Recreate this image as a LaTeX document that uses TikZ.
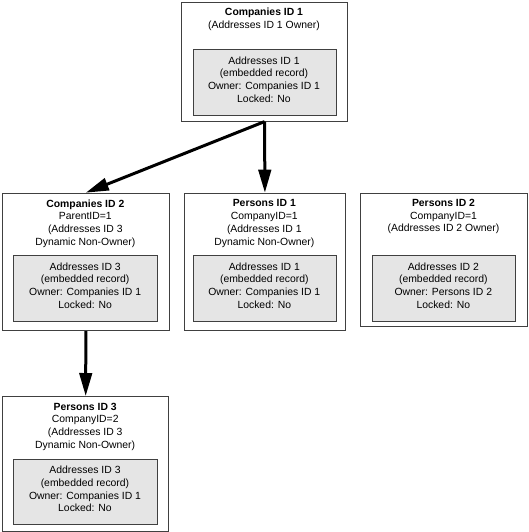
\documentclass[tikz,border=0pt]{standalone}
\usepackage{fontspec}
\setmainfont{Liberation Sans}
\usetikzlibrary{arrows.meta}
\tikzset{
  outerbox/.style={draw=black!75, line width=1.1pt, fill=white, inner sep=0pt, anchor=north west},
  innerbox/.style={draw=black!75, line width=1.1pt, fill=black!10, inner sep=0pt, anchor=north west},
  txt/.style={align=center, inner sep=0pt, text=black, font=\fontsize{10.4}{12.7}\selectfont},
  link/.style={line width=3pt, -{Triangle[length=23pt,width=12.5pt]}}
}
\begin{document}
\begin{tikzpicture}[x=1pt,y=-1pt]
\useasboundingbox (0,0) rectangle (529,532);
% outer boxes
\node[outerbox, minimum width=166pt, minimum height=118.5pt] (c1) at (181,2) {};
\node[outerbox, minimum width=166.5pt, minimum height=137.3pt] (c2) at (2,192.7) {};
\node[outerbox, minimum width=161.3pt, minimum height=137.3pt] (p1) at (183.7,192.7) {};
\node[outerbox, minimum width=167pt, minimum height=133.3pt] (p2) at (360,192.7) {};
\node[outerbox, minimum width=166.3pt, minimum height=134.7pt] (p3) at (2,396) {};
% inner boxes
\node[innerbox, minimum width=143.5pt, minimum height=66pt] (c1i) at (192.5,49) {};
\node[innerbox, minimum width=143.7pt, minimum height=66pt] (c2i) at (13.3,255) {};
\node[innerbox, minimum width=143.3pt, minimum height=66pt] (p1i) at (192.7,255) {};
\node[innerbox, minimum width=143.3pt, minimum height=66pt] (p2i) at (371.7,255) {};
\node[innerbox, minimum width=143.4pt, minimum height=65.6pt] (p3i) at (13.3,458.7) {};
% titles
\node[txt] (c1t) at (264,19) {\textbf{Companies ID 1}\\(Addresses ID 1 Owner)};
\node[txt] (c2t) at (85.3,223.5) {\textbf{Companies ID 2}\\ParentID=1\\(Addresses ID 3\\Dynamic Non-Owner)};
\node[txt] (p1t) at (264.3,223.5) {\textbf{Persons ID 1}\\CompanyID=1\\(Addresses ID 1\\Dynamic Non-Owner)};
\node[txt] (p2t) at (443.5,216.7) {\textbf{Persons ID 2}\\CompanyID=1\\(Addresses ID 2 Owner)};
\node[txt] (p3t) at (85.2,426.5) {\textbf{Persons ID 3}\\CompanyID=2\\(Addresses ID 3\\Dynamic Non-Owner)};
% inner texts
\node[txt] (c1it) at (264,79.5) {Addresses ID 1\\(embedded record)\\Owner: Companies ID 1\\Locked: No};
\node[txt] (c2it) at (85.2,285.5) {Addresses ID 3\\(embedded record)\\Owner: Companies ID 1\\Locked: No};
\node[txt] (p1it) at (264.3,285.5) {Addresses ID 1\\(embedded record)\\Owner: Companies ID 1\\Locked: No};
\node[txt] (p2it) at (443.3,285.5) {Addresses ID 2\\(embedded record)\\Owner: Persons ID 2\\Locked: No};
\node[txt] (p3it) at (85,489) {Addresses ID 3\\(embedded record)\\Owner: Companies ID 1\\Locked: No};
% connectors
\draw[link] (c1.south) -- (c2.north);
\draw[link] (c1.south) -- (p1.north);
\draw[link] (c2.south) -- (p3.north);
\end{tikzpicture}
\end{document}
